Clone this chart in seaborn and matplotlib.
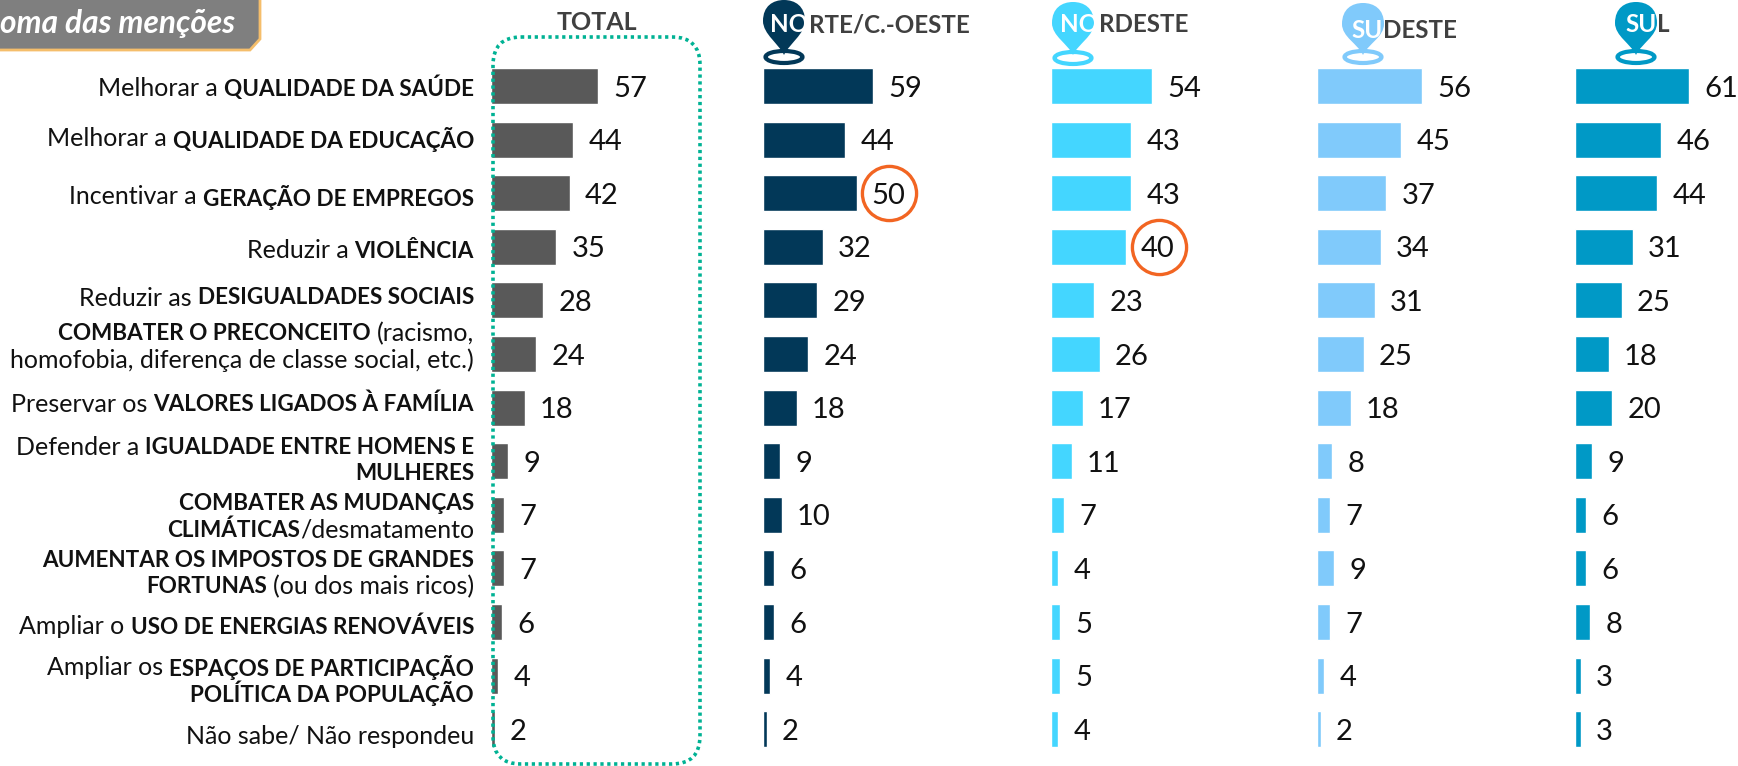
"""Regional bar panels: soma das menções, total and by region."""

import matplotlib
matplotlib.use("Agg")
import matplotlib.pyplot as plt
import pandas as pd
import seaborn as sns
from matplotlib.patches import Ellipse, FancyBboxPatch, PathPatch, Polygon
from matplotlib.path import Path

# each row label: lines of (text, bold) pieces
row_labels = [
    [[("Melhorar a", False), ("QUALIDADE DA SAÚDE", True)]],
    [[("Melhorar a", False), ("QUALIDADE DA EDUCAÇÃO", True)]],
    [[("Incentivar a", False), ("GERAÇÃO DE EMPREGOS", True)]],
    [[("Reduzir a", False), ("VIOLÊNCIA", True)]],
    [[("Reduzir as", False), ("DESIGUALDADES SOCIAIS", True)]],
    [[("COMBATER O PRECONCEITO", True), ("(racismo,", False)],
     [("homofobia, diferença de classe social, etc.)", False)]],
    [[("Preservar os", False), ("VALORES LIGADOS À FAMÍLIA", True)]],
    [[("Defender a", False), ("IGUALDADE ENTRE HOMENS E", True)],
     [("MULHERES", True)]],
    [[("COMBATER AS MUDANÇAS", True)],
     [("CLIMÁTICAS", True), ("/desmatamento", False)]],
    [[("AUMENTAR OS IMPOSTOS DE GRANDES", True)],
     [("FORTUNAS", True), ("(ou dos mais ricos)", False)]],
    [[("Ampliar o", False), ("USO DE ENERGIAS RENOVÁVEIS", True)]],
    [[("Ampliar os", False), ("ESPAÇOS DE PARTICIPAÇÃO", True)],
     [("POLÍTICA DA POPULAÇÃO", True)]],
    [[("Não sabe/ Não respondeu", False)]],
]

total = [57, 44, 42, 35, 28, 24, 18, 9, 7, 7, 6, 4, 2]
norte = [59, 44, 50, 32, 29, 24, 18, 9, 10, 6, 6, 4, 2]
nordeste = [54, 43, 43, 40, 23, 26, 17, 11, 7, 4, 5, 5, 4]
sudeste = [56, 45, 37, 34, 31, 25, 18, 8, 7, 9, 7, 4, 2]
sul = [61, 46, 44, 31, 25, 18, 20, 9, 6, 6, 8, 3, 3]

items = [" ".join(p[0] for line in lab for p in line) for lab in row_labels]
df = pd.DataFrame({"item": items, "total": total, "norte": norte,
                   "nordeste": nordeste, "sudeste": sudeste, "sul": sul})

W, H = 1738, 766
FIRST_ROW, PITCH = 86.0, 53.6
PX_PER_UNIT = 1.87
FONT = "Lato"
GRAY_TEXT = "#404040"
ORANGE = "#F26522"

# column, colour, left edge in px
panels = [
    ("total", "#595959", 491),
    ("norte", "#023858", 763),
    ("nordeste", "#44D6FF", 1051),
    ("sudeste", "#80CAFB", 1317),
    ("sul", "#0099C6", 1575),
]

sns.set_theme(style="white")
plt.rcParams["font.family"] = [FONT, "DejaVu Sans"]

fig = plt.figure(figsize=(W / 100, H / 100), dpi=100)

for col, colour, left in panels:
    ax = fig.add_axes([left / W, 0, (W - left) / W, 1])
    sns.barplot(data=df, x=col, y="item", color=colour, saturation=1,
                width=0.67, ax=ax)
    ax.set_xlim(0, (W - left) / PX_PER_UNIT)
    ax.set_ylim((H - FIRST_ROW) / PITCH, -FIRST_ROW / PITCH)
    ax.set_axis_off()
    ax.patch.set_alpha(0)
    for lab in ax.bar_label(ax.containers[0], padding=11, fontsize=21, color="#111111"):
        lab.set_va("center_baseline")

    # orange rings around the highlighted values
    if col == "norte":
        ax.plot(df[col][2] + 17.5, 2, "o", ms=39, mfc="none", mec=ORANGE, mew=2.4)
    if col == "nordeste":
        ax.plot(df[col][3] + 17.5, 3, "o", ms=39, mfc="none", mec=ORANGE, mew=2.4)

# overlay in pixel coordinates for labels and decoration
over = fig.add_axes([0, 0, 1, 1], zorder=5)
over.set_xlim(0, W)
over.set_ylim(H, 0)
over.set_axis_off()
over.patch.set_alpha(0)
renderer = fig.canvas.get_renderer()


def draw_line(pieces, right, y):
    # right aligned line made of regular and bold pieces
    x = right
    for text, bold in reversed(pieces):
        t = over.text(x, y, text, ha="right", va="center_baseline",
                      fontsize=16.2 if bold else 18, color="#111111",
                      fontweight="bold" if bold else "normal")
        x -= t.get_window_extent(renderer).width
        if not text.startswith("/"):
            x -= 6


label_y = [86, 137, 195, 249, 296, 345, 402, 458.5, 515, 571.5, 625, 678.5, 735]
for lab, yc in zip(row_labels, label_y):
    top = yc - (len(lab) - 1) * 13.2
    for i, line in enumerate(lab):
        draw_line(line, 474, top + i * 26.4)

# title tab
over.add_patch(Polygon([(-5, -5), (260, -5), (260, 39), (250, 50), (-5, 50)],
                       closed=True, fc="#7F7F7F", ec="#F5BE6B", lw=2))
over.text(0, 23, "oma das menções", color="white", fontsize=22.8, va="center",
          fontweight="bold", style="italic")

# dotted frame round the total column
over.add_patch(FancyBboxPatch((493, 37), 207, 727,
                              boxstyle="round,pad=0,rounding_size=28",
                              fc="none", ec="#00B294", lw=2.6,
                              ls=(0, (0.9, 1.0))))
over.text(597, 23, "TOTAL", color=GRAY_TEXT, fontsize=18, fontweight="bold",
          ha="center", va="center")


def draw_pin(cx, top, tip, ring_y, colour):
    r = 21
    mid = top + 21
    verts = [(cx, tip),
             (cx - 5, tip - 11), (cx - r, mid + 13), (cx - r, mid),
             (cx - r, top + 6), (cx - 11, top), (cx, top),
             (cx + 11, top), (cx + r, top + 6), (cx + r, mid),
             (cx + r, mid + 13), (cx + 5, tip - 11), (cx, tip)]
    codes = [Path.MOVETO] + [Path.CURVE4] * 12
    over.add_patch(PathPatch(Path(verts, codes), fc=colour, ec="none"))
    over.add_patch(Ellipse((cx, ring_y), 37, 12, fc="none", ec=colour, lw=3))


# pin centre, top, tip, ring, heading start and heading height
headings = [
    ("NO", "RTE/C.-OESTE", 770, 25, 784, 0, 55, 57, "#023858"),
    ("NO", "RDESTE", 1060, 24, 1073, 2, 55, 58, "#44D6FF"),
    ("SU", "DESTE", 1351, 30, 1363, 3, 55, 57, "#80CAFB"),
    ("SU", "L", 1625, 24, 1636, 2, 55, 57, "#0099C6"),
]
for first, rest, tx, ty, cx, top, tip, ring_y, colour in headings:
    draw_pin(cx, top, tip, ring_y, colour)
    t = over.text(tx, ty, first, color="white", fontsize=17.4, fontweight="bold",
                  va="center")
    over.text(tx + t.get_window_extent(renderer).width + 1, ty, rest,
              color=GRAY_TEXT, fontsize=17.4, fontweight="bold", va="center")

fig.savefig("out.png", dpi=100)
